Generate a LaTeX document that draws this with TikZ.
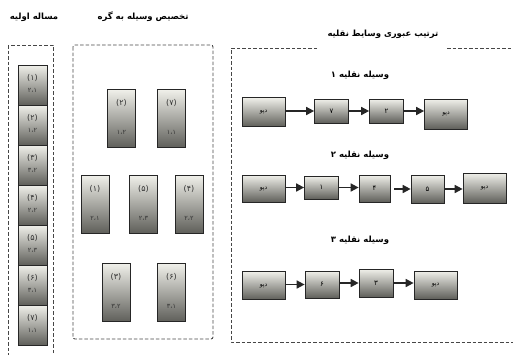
\documentclass[tikz,border=0pt]{standalone}
\usepackage{fontspec}
\newfontfamily\arabicfont[Script=Arabic]{DejaVu Sans}
\TeXXeTstate=1
\usetikzlibrary{arrows.meta}
\definecolor{boxtop}{RGB}{240,240,234}
\definecolor{boxbot}{RGB}{95,95,90}
\definecolor{dashc}{RGB}{70,70,70}
\tikzset{
  frame/.style={draw=dashc, line width=0.9pt, dash pattern=on 3.5pt off 2pt},
  cell/.style={draw=black!85, line width=0.7pt, top color=boxtop, bottom color=boxbot, inner sep=0pt},
  colcell/.style={cell, minimum width=29pt, minimum height=40pt},
  midcell/.style={cell, minimum width=28pt, minimum height=58pt},
  depot/.style={cell, minimum width=43pt, minimum height=29pt, font=\arabicfont\fontsize{6}{7}\selectfont},
  stop/.style={cell, minimum width=34pt, minimum height=24pt, font=\arabicfont\fontsize{7}{8}\selectfont},
  numlbl/.style={font=\arabicfont\fontsize{8}{9}\selectfont, text=black!80, inner sep=0pt},
  pairlbl/.style={font=\arabicfont\fontsize{6.5}{7}\selectfont, text=black!80, inner sep=0pt},
  title/.style={font=\arabicfont\fontsize{8.5}{10}\selectfont\bfseries, inner sep=0pt},
  vlabel/.style={font=\arabicfont\fontsize{8.5}{10}\selectfont\bfseries, inner sep=0pt},
  flow/.style={-{Triangle[length=8pt,width=8pt]}, line width=1.6pt, black!85}
}
\begin{document}
\begin{tikzpicture}[x=1pt,y=-1pt]
\useasboundingbox (0,0) rectangle (513,354);

% titles
\node[title] (t1) at (34,17) {\beginR مساله اولیه\endR};
\node[title] (t2) at (143,17) {\beginR تخصیص وسیله به گره\endR};
\node[title] (t3) at (383,34) {\beginR ترتیب عبوری وسایط نقلیه\endR};

% frames
\draw[frame] (8,45) rectangle (53,358);
\draw[frame, rounded corners=2pt] (73,45) rectangle (213,339);
\draw[frame] (317,48) -- (231,48) -- (231,342) -- (516,342);
\draw[frame] (447,48) -- (516,48);

% column of problem items
\foreach \i/\n/\p [count=\k from 0] in {1/(۱)/۲،۱, 2/(۲)/۱،۲, 3/(۳)/۳،۲, 4/(۴)/۲،۲, 5/(۵)/۲،۳, 6/(۶)/۳،۱, 7/(۷)/۱،۱}{
  \node[colcell] (c\i) at (32.5,{85+40*\k}) {};
  \node[numlbl] (cn\i) at ([yshift=7pt]c\i.center) {\n};
  \node[pairlbl] (cp\i) at ([yshift=-5pt]c\i.center) {\p};
}

% assignment nodes
\foreach \nm/\x/\y/\n/\p in {m2/121.5/118.5/(۲)/۱،۲, m7/171.5/118.5/(۷)/۱،۱,
  m1/95/204/(۱)/۲،۱, m5/143.5/204/(۵)/۲،۳, m4/189/204/(۴)/۲،۲,
  m3/116/292.5/(۳)/۳،۲, m6/171.5/292.5/(۶)/۳،۱}{
  \node[midcell] (\nm) at (\x,\y) {};
  \node[numlbl] (\nm n) at ([yshift=-14pt]\nm.north) {\n};
  \node[pairlbl] (\nm p) at ([yshift=15pt]\nm.south) {\p};
}

% vehicle labels
\node[vlabel] (v1) at (360,75) {\beginR وسیله نقلیه ۱\endR};
\node[vlabel] (v2) at (360,155) {\beginR وسیله نقلیه ۲\endR};
\node[vlabel] (v3) at (360,240) {\beginR وسیله نقلیه ۳\endR};

% route 1
\node[depot] (d1a) at (263.5,112) {\beginR دپو\endR};
\node[stop] (r17) at (331.5,111) {۷};
\node[stop] (r12) at (386.5,111) {۲};
\node[depot, minimum height=30pt] (d1b) at (446,114) {\beginR دپو\endR};
\draw[flow] (d1a.east|-r17) -- (r17.west);
\draw[flow] (r17) -- (r12);
\draw[flow] (r12.east) -- (d1b.west|-r12);

% route 2
\node[depot, minimum height=27pt] (d2a) at (263.5,188.5) {\beginR دپو\endR};
\node[stop, minimum height=23pt] (r21) at (321.5,187.5) {۱};
\node[stop, minimum width=31pt, minimum height=27pt] (r24) at (374.5,188.5) {۴};
\node[stop, minimum width=33pt, minimum height=28pt] (r25) at (427.5,189) {۵};
\node[depot, minimum height=30pt] (d2b) at (484.5,188) {\beginR دپو\endR};
\draw[flow] (d2a.east|-r21) -- (r21.west);
\draw[flow] (r21.east) -- (r24.west|-r21);
\draw[flow, shorten <=4pt] (r24.east|-r25) -- (r25.west);
\draw[flow] (r25.east) -- (d2b.west|-r25);

% route 3
\node[depot, minimum height=28pt] (d3a) at (263.5,285.5) {\beginR دپو\endR};
\node[stop, minimum height=27pt] (r36) at (322,284.5) {۶};
\node[stop, minimum height=28pt] (r33) at (376,283) {۳};
\node[depot, minimum height=28pt] (d3b) at (435.5,285) {\beginR دپو\endR};
\draw[flow] (d3a.east|-r36) -- (r36.west);
\draw[flow] (r36.east|-r33) -- (r33.west);
\draw[flow] (r33.east) -- (d3b.west|-r33);
\end{tikzpicture}
\end{document}
